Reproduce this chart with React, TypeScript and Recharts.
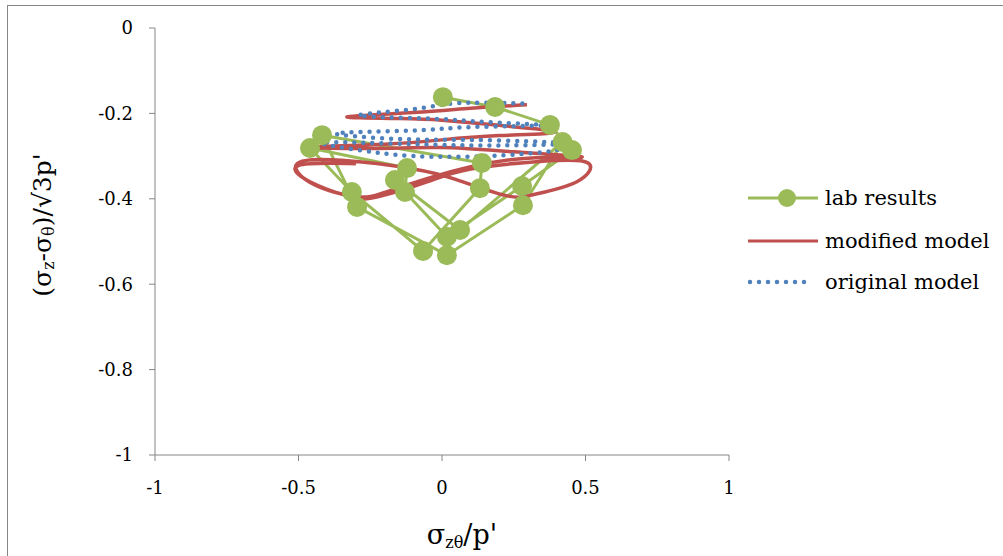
import React from 'react';
import { ComposedChart, Line, XAxis, YAxis } from 'recharts';

// lab results (stress path points, in test order)
const labX = [0.003, 0.185, 0.376, 0.453, 0.279, 0.017, -0.129, -0.122, -0.46, -0.314, -0.066, 0.132, 0.139, -0.418, -0.296, 0.017, 0.282, 0.42, 0.063, -0.164];
const labY = [-0.162, -0.185, -0.227, -0.286, -0.37, -0.489, -0.384, -0.328, -0.281, -0.384, -0.522, -0.375, -0.316, -0.251, -0.419, -0.532, -0.415, -0.267, -0.473, -0.356];

// modified model
const modX = [0.296, 0.1, -0.1, -0.331, -0.15, 0.0, 0.2, 0.394, 0.2, 0.0, -0.2, -0.449, -0.25, 0.0, 0.25, 0.488, 0.3, 0.1, -0.05, -0.2, -0.3, -0.45, -0.505, -0.35, -0.1, 0.05, 0.22, 0.32, 0.47, 0.509, 0.35, 0.1, -0.05, -0.22, -0.32, -0.46, -0.5, -0.3];
const modY = [-0.18, -0.188, -0.198, -0.208, -0.212, -0.216, -0.228, -0.244, -0.252, -0.262, -0.272, -0.279, -0.282, -0.28, -0.29, -0.302, -0.305, -0.325, -0.352, -0.385, -0.395, -0.365, -0.318, -0.31, -0.33, -0.355, -0.392, -0.39, -0.36, -0.316, -0.312, -0.33, -0.36, -0.395, -0.395, -0.36, -0.322, -0.318];

// original model
const origX = [0.28, 0.05, -0.1, -0.29, -0.05, 0.15, 0.35, 0.1, -0.1, -0.37, -0.15, 0.1, 0.43, 0.2, -0.1, -0.41, -0.3, -0.1, 0.15, 0.36, 0.45];
const origY = [-0.177, -0.176, -0.19, -0.205, -0.212, -0.22, -0.228, -0.232, -0.24, -0.247, -0.26, -0.262, -0.27, -0.275, -0.272, -0.268, -0.285, -0.3, -0.3, -0.29, -0.278];

const xTicks = [-1, -0.5, 0, 0.5, 1];
const yTicks = [0, -0.2, -0.4, -0.6, -0.8, -1];

const GREEN = '#9BBB59';
const RED = '#C0504D';
const BLUE = '#4F81BD';
const AXIS = '#868686';
const FONT = "'DejaVu Serif'";

const zip = (xs: number[], ys: number[]) => xs.map((x, i) => ({ x, y: ys[i] }));
const labData = zip(labX, labY);
const modData = zip(modX, modY);
const origData = zip(origX, origY);

const XTick = ({ x, y, payload }: any) => (
  <text x={x} y={y} dy="0.71em" textAnchor="middle" fontFamily={FONT} fontSize={18} fill="#000">
    {payload.value}
  </text>
);

const YTick = ({ x, y, payload }: any) => (
  <text x={x} y={y} dy="0.355em" textAnchor="end" fontFamily={FONT} fontSize={18} fill="#000">
    {payload.value}
  </text>
);

const YTitle = () => {
  const cx = 42;
  const cy = 225;
  return (
    <text x={cx} y={cy} transform={`rotate(-90 ${cx} ${cy})`} textAnchor="middle" dominantBaseline="central" fontFamily={FONT} fontSize={25} fill="#000">
      (σ<tspan fontSize={16} dy={6}>z</tspan>
      <tspan dy={-6}>-σ</tspan>
      <tspan fontSize={16} dy={6}>θ</tspan>
      <tspan dy={-6}>)/√3p'</tspan>
    </text>
  );
};

const XTitle = () => (
  <text x={462} y={544} textAnchor="middle" fontFamily={FONT} fontSize={27} fill="#000">
    σ<tspan fontSize={16} dy={4}>zθ</tspan>
    <tspan dy={-4}>/p'</tspan>
  </text>
);

const legendRow: React.CSSProperties = { position: 'absolute', left: 748, display: 'flex', alignItems: 'center', fontFamily: FONT, fontSize: 21, color: '#000', whiteSpace: 'nowrap' };

export default function App() {
  return (
    <div style={{ position: 'absolute', left: 0, top: 0, width: 1003, height: 556, overflow: 'hidden', background: '#fff', fontFamily: FONT }}>
      <div style={{ position: 'absolute', left: 7, top: 5, width: 1000, height: 560, border: `1px solid ${AXIS}`, boxSizing: 'border-box' }} />
      <div style={{ position: 'absolute', left: 0, top: 0 }}>
        <ComposedChart width={1003} height={556} margin={{ top: 28, right: 274, bottom: 61, left: 95 }}>
          <XAxis
            type="number"
            dataKey="x"
            domain={[-1, 1]}
            ticks={xTicks}
            allowDataOverflow
            height={40}
            stroke={AXIS}
            tickSize={6}
            tickMargin={20}
            tick={<XTick />}
            label={<XTitle />}
          />
          <YAxis
            type="number"
            dataKey="y"
            domain={[-1, 0]}
            ticks={yTicks}
            allowDataOverflow
            width={60}
            stroke={AXIS}
            tickSize={6}
            tickMargin={16}
            tick={<YTick />}
            label={<YTitle />}
          />
          <Line data={labData} dataKey="y" type="linear" stroke={GREEN} strokeWidth={3} dot={{ r: 10, fill: GREEN, stroke: GREEN, strokeWidth: 0 }} activeDot={false} isAnimationActive={false} />
          <Line data={modData} dataKey="y" type="natural" stroke={RED} strokeWidth={3.5} dot={false} activeDot={false} isAnimationActive={false} />
          <Line data={origData} dataKey="y" type="natural" stroke={BLUE} strokeWidth={4.5} strokeDasharray="0 9" strokeLinecap="round" dot={false} activeDot={false} isAnimationActive={false} />
        </ComposedChart>
      </div>
      <div style={{ ...legendRow, top: 186 }}>
        <svg width={77} height={24}>
          <line x1={0} y1={12} x2={70} y2={12} stroke={GREEN} strokeWidth={3} />
          <circle cx={39} cy={12} r={9} fill={GREEN} />
        </svg>
        <span>lab results</span>
      </div>
      <div style={{ ...legendRow, top: 229 }}>
        <svg width={77} height={24}>
          <line x1={0} y1={12} x2={70} y2={12} stroke={RED} strokeWidth={3} />
        </svg>
        <span>modified model</span>
      </div>
      <div style={{ ...legendRow, top: 270 }}>
        <svg width={77} height={24}>
          <line x1={2} y1={12} x2={64} y2={12} stroke={BLUE} strokeWidth={4.5} strokeDasharray="0 9" strokeLinecap="round" />
        </svg>
        <span>original model</span>
      </div>
    </div>
  );
}
